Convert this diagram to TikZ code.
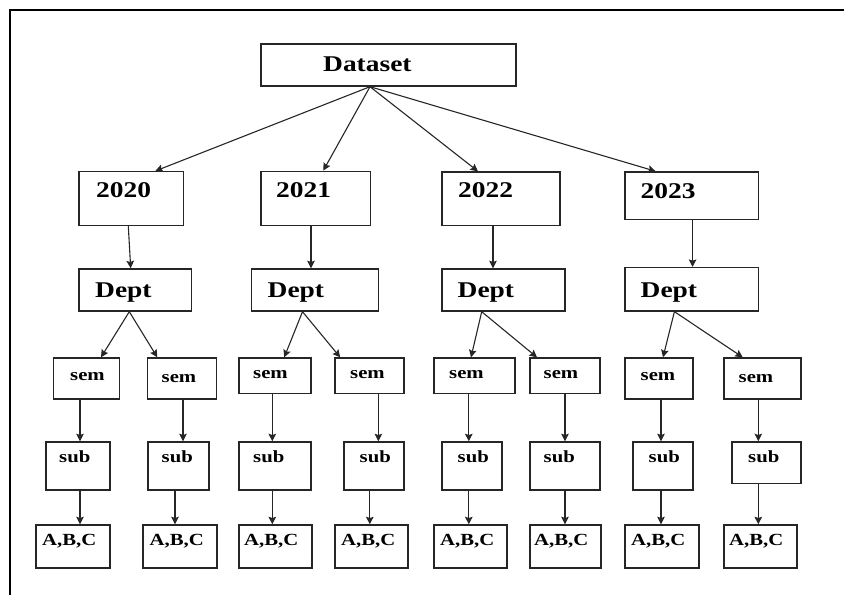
\documentclass[tikz,border=0pt]{standalone}
\usepackage{fontspec}
\setmainfont{Liberation Serif}
\usepackage{graphicx}
\usetikzlibrary{arrows.meta}
\newcommand{\widetext}[1]{\scalebox{1.22}[1]{#1}}

\begin{document}
\begin{tikzpicture}[x=1pt, y=-1pt,
    box/.style={draw=black!85, line width=1.4pt, inner sep=0},
    big/.style={anchor=base west, inner sep=0, font=\fontsize{22.5}{24}\selectfont\bfseries},
    small/.style={anchor=base west, inner sep=0, font=\fontsize{17}{19}\selectfont\bfseries},
    arrow/.style={-{Stealth[length=7.5pt, width=7.5pt, inset=1.2pt]}, line width=1.1pt, black!85},
    frame/.style={line width=2pt}
]

% Page and frame
\useasboundingbox (0,0) rectangle (844,595);
\draw[frame] (844,10) -- (10,10) -- (10,595);

% Root
\node[box, minimum width=255, minimum height=42] (ds) at (388.5,65) {};
\node[big] (tds) at (323,71) {\widetext{Dataset}};

% Years
\node[box, minimum width=104.7, minimum height=53.6] (y20) at (131.3,198.5) {};
\node[box, minimum width=109.7, minimum height=54] (y21) at (315.8,198.3) {};
\node[box, minimum width=118, minimum height=53.5] (y22) at (501,198.8) {};
\node[box, minimum width=133.4, minimum height=47.3] (y23) at (691.6,195.6) {};
\node[big] (t20) at (96,197) {\widetext{2020}};
\node[big] (t21) at (276,197) {\widetext{2021}};
\node[big] (t22) at (458,197) {\widetext{2022}};
\node[big] (t23) at (640.5,198) {\widetext{2023}};

% Departments
\node[box, minimum width=112.7, minimum height=42] (d20) at (135.3,290) {};
\node[box, minimum width=127, minimum height=42] (d21) at (314.8,290) {};
\node[box, minimum width=123, minimum height=42] (d22) at (503.5,290) {};
\node[box, minimum width=133.4, minimum height=43.3] (d23) at (691.6,289.3) {};
\node[big] (td20) at (95,297) {\widetext{Dept}};
\node[big] (td21) at (267.5,297) {\widetext{Dept}};
\node[big] (td22) at (457.5,297) {\widetext{Dept}};
\node[big] (td23) at (640.5,297) {\widetext{Dept}};

% Semesters
\node[box, minimum width=66, minimum height=41] (m1) at (86.3,378.5) {};
\node[box, minimum width=69, minimum height=41] (m2) at (182.2,378.5) {};
\node[box, minimum width=72, minimum height=35.3] (m3) at (275,375.7) {};
\node[box, minimum width=69, minimum height=35.3] (m4) at (369.5,375.7) {};
\node[box, minimum width=81, minimum height=35.3] (m5) at (474.5,375.7) {};
\node[box, minimum width=70, minimum height=35.3] (m6) at (565,375.7) {};
\node[box, minimum width=68, minimum height=41] (m7) at (659,378.5) {};
\node[box, minimum width=77, minimum height=41] (m8) at (762.5,378.5) {};
\node[small] (tm1) at (70,380) {\widetext{sem}};
\node[small] (tm2) at (161.5,382.5) {\widetext{sem}};
\node[small] (tm3) at (253,378.5) {\widetext{sem}};
\node[small] (tm4) at (350,378.5) {\widetext{sem}};
\node[small] (tm5) at (449,378) {\widetext{sem}};
\node[small] (tm6) at (543.5,378) {\widetext{sem}};
\node[small] (tm7) at (640.5,380) {\widetext{sem}};
\node[small] (tm8) at (738.5,382.5) {\widetext{sem}};

% Subjects
\node[box, minimum width=64, minimum height=48] (b1) at (78,466) {};
\node[box, minimum width=61, minimum height=48] (b2) at (178.5,466) {};
\node[box, minimum width=72, minimum height=48] (b3) at (275,466) {};
\node[box, minimum width=60, minimum height=48] (b4) at (374,466) {};
\node[box, minimum width=60, minimum height=48] (b5) at (472,466) {};
\node[box, minimum width=70, minimum height=48] (b6) at (565,466) {};
\node[box, minimum width=60, minimum height=48] (b7) at (663,466) {};
\node[box, minimum width=69, minimum height=41.3] (b8) at (766.5,462.6) {};
\node[small] (tb1) at (59,462.5) {\widetext{sub}};
\node[small] (tb2) at (161.5,462.5) {\widetext{sub}};
\node[small] (tb3) at (253,462.5) {\widetext{sub}};
\node[small] (tb4) at (359.5,462.5) {\widetext{sub}};
\node[small] (tb5) at (457.5,462.5) {\widetext{sub}};
\node[small] (tb6) at (543.5,462.5) {\widetext{sub}};
\node[small] (tb7) at (648.5,462.5) {\widetext{sub}};
\node[small] (tb8) at (748,462.5) {\widetext{sub}};

% Classes
\node[box, minimum width=74, minimum height=43] (c1) at (73,546.5) {};
\node[box, minimum width=74, minimum height=43] (c2) at (180,546.5) {};
\node[box, minimum width=73, minimum height=43] (c3) at (275.5,546.5) {};
\node[box, minimum width=73, minimum height=43] (c4) at (371.5,546.5) {};
\node[box, minimum width=73, minimum height=43] (c5) at (470.5,546.5) {};
\node[box, minimum width=71, minimum height=43] (c6) at (565.5,546.5) {};
\node[box, minimum width=74, minimum height=43] (c7) at (662,546.5) {};
\node[box, minimum width=73, minimum height=43] (c8) at (760.5,546.5) {};
\node[small] (tc1) at (42,545) {\widetext{A,B,C}};
\node[small] (tc2) at (149.5,545) {\widetext{A,B,C}};
\node[small] (tc3) at (244,545) {\widetext{A,B,C}};
\node[small] (tc4) at (341,545) {\widetext{A,B,C}};
\node[small] (tc5) at (440,545) {\widetext{A,B,C}};
\node[small] (tc6) at (534,545) {\widetext{A,B,C}};
\node[small] (tc7) at (631,545) {\widetext{A,B,C}};
\node[small] (tc8) at (729,545) {\widetext{A,B,C}};

% Dataset -> years
\draw[arrow] ([xshift=-18.5]ds.south) -- ([xshift=24]y20.north);
\draw[arrow] ([xshift=-18.5]ds.south) -- ([xshift=7.5]y21.north);
\draw[arrow] ([xshift=-18.5]ds.south) -- ([xshift=-23]y22.north);
\draw[arrow] ([xshift=-18.5]ds.south) -- ([xshift=-36]y23.north);

% Years -> departments
\draw[arrow] ([xshift=-3]y20.south) -- ([xshift=-4.6]d20.north);
\draw[arrow] ([xshift=-4.8]y21.south) -- ([xshift=-3.8]d21.north);
\draw[arrow] ([xshift=-8]y22.south) -- ([xshift=-10.5]d22.north);
\draw[arrow] ([xshift=1]y23.south) -- ([xshift=1]d23.north);

% Departments -> semesters
\draw[arrow] ([xshift=-6]d20.south) -- ([xshift=14.7]m1.north);
\draw[arrow] ([xshift=-6]d20.south) -- ([xshift=-24.9]m2.north);
\draw[arrow] ([xshift=-12.3]d21.south) -- ([xshift=9.2]m3.north);
\draw[arrow] ([xshift=-12.3]d21.south) -- ([xshift=-29.3]m4.north);
\draw[arrow] ([xshift=-21.8]d22.south) -- ([xshift=-3.5]m5.north);
\draw[arrow] ([xshift=-21.8]d22.south) -- ([xshift=-28]m6.north);
\draw[arrow] ([xshift=-17.2]d23.south) -- ([xshift=4]m7.north);
\draw[arrow] ([xshift=-17.2]d23.south) -- ([xshift=-19.8]m8.north);

% Semesters -> subjects
\draw[arrow] ([xshift=-6.3]m1.south) -- ([xshift=2]b1.north);
\draw[arrow] ([xshift=0.8]m2.south) -- ([xshift=4.5]b2.north);
\draw[arrow] ([xshift=-2.7]m3.south) -- ([xshift=-2.7]b3.north);
\draw[arrow] ([xshift=8.9]m4.south) -- ([xshift=4.4]b4.north);
\draw[arrow] ([xshift=-5.7]m5.south) -- ([xshift=-3.2]b5.north);
\draw[arrow] (m6.south) -- (b6.north);
\draw[arrow] ([xshift=2]m7.south) -- ([xshift=-2]b7.north);
\draw[arrow] ([xshift=-4.2]m8.south) -- ([xshift=-8.2]b8.north);

% Subjects -> classes
\draw[arrow] ([xshift=2]b1.south) -- ([xshift=7]c1.north);
\draw[arrow] ([xshift=-3.5]b2.south) -- ([xshift=-5]c2.north);
\draw[arrow] ([xshift=-2.7]b3.south) -- ([xshift=-3.2]c3.north);
\draw[arrow] ([xshift=-4.2]b4.south) -- ([xshift=-1.7]c4.north);
\draw[arrow] ([xshift=-3.2]b5.south) -- ([xshift=-1.7]c5.north);
\draw[arrow] (b6.south) -- ([xshift=-0.5]c6.north);
\draw[arrow] ([xshift=-2]b7.south) -- ([xshift=-1]c7.north);
\draw[arrow] ([xshift=-8.2]b8.south) -- ([xshift=-2.2]c8.north);

\end{tikzpicture}
\end{document}
